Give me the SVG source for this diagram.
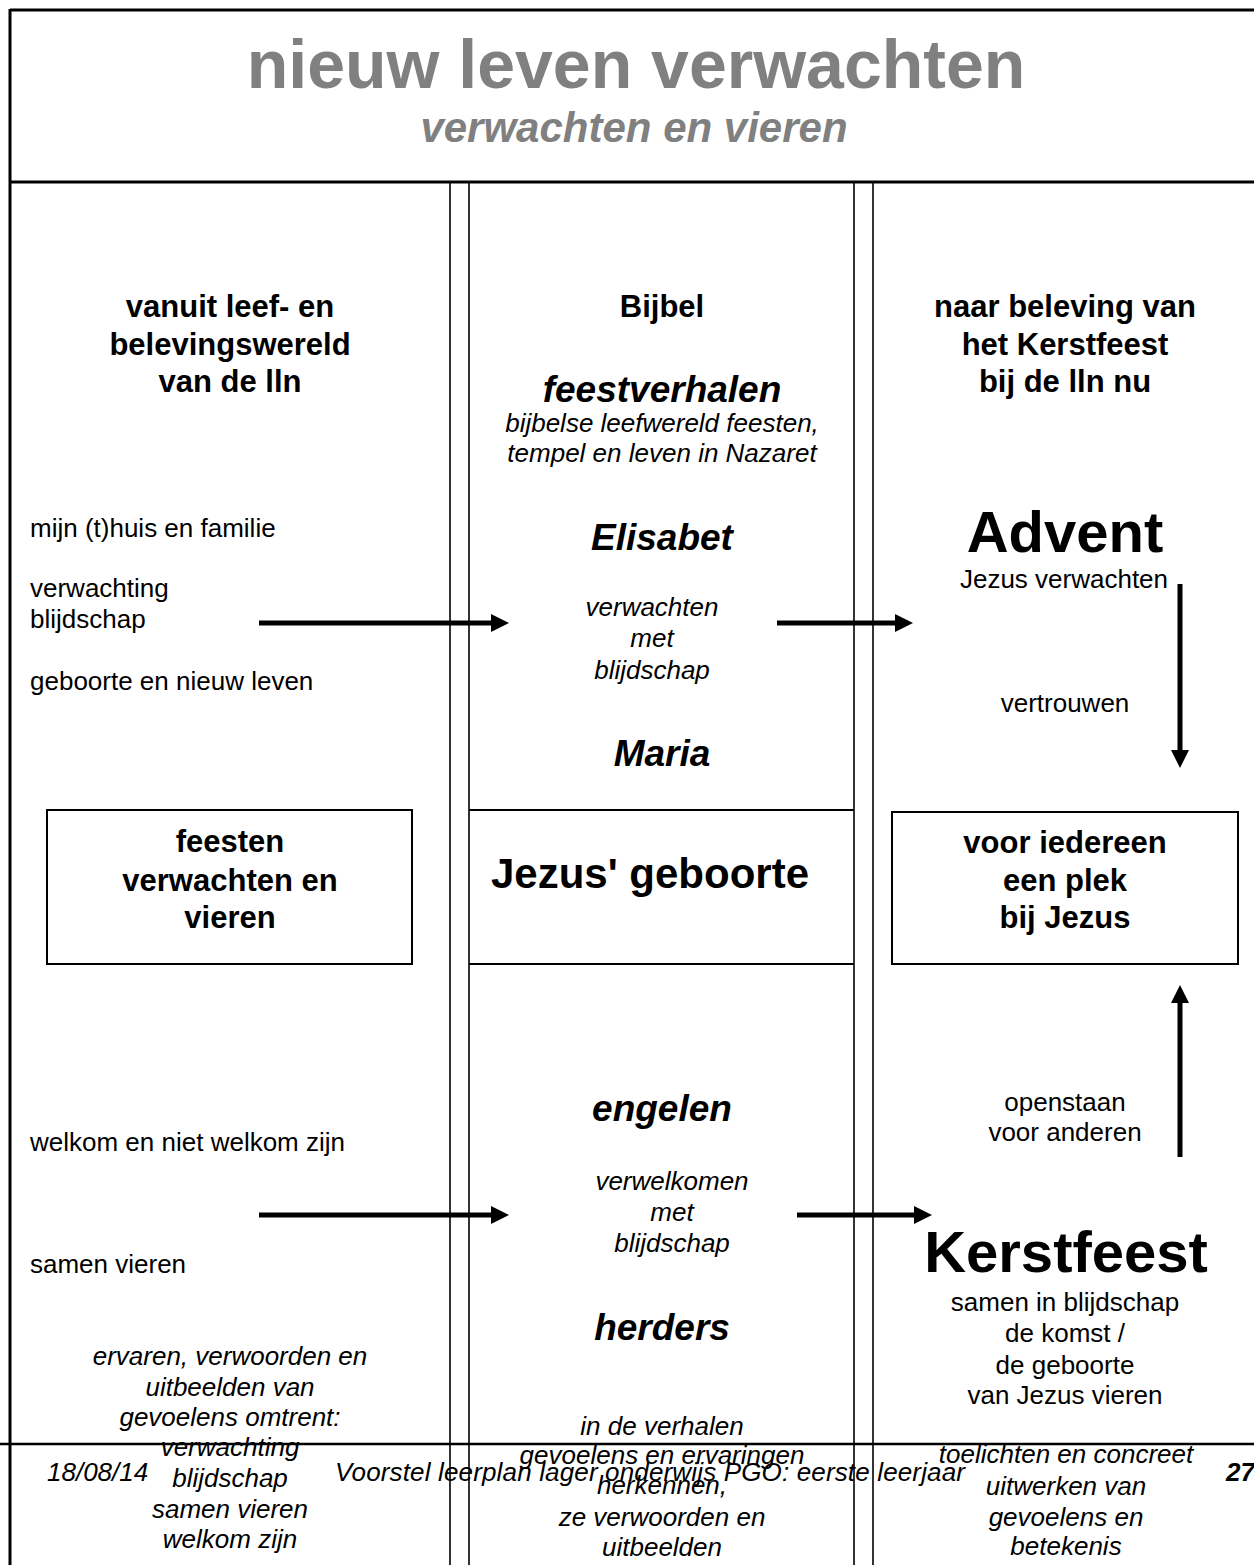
<svg xmlns="http://www.w3.org/2000/svg" width="1254" height="1565" viewBox="0 0 1254 1565">
<style>
text{font-family:"Liberation Sans",Arial,sans-serif;fill:#000}
.c{text-anchor:middle}
.t{font-size:26px}
.i{font-size:26px;font-style:italic}
.h{font-size:31px;font-weight:bold}
.bi{font-size:37px;font-weight:bold;font-style:italic}
.big{font-size:58px;font-weight:bold}
.frame{stroke:#000;fill:none}
.box{stroke:#000;stroke-width:2;fill:none}
.arr{stroke:#000;stroke-width:5}
.head{fill:#000}
</style>
<rect width="1254" height="1565" fill="#fff"/>
<g id="frame">
<line class="frame" x1="10" y1="10" x2="1254" y2="10" stroke-width="3"/>
<line class="frame" x1="10" y1="9" x2="10" y2="1565" stroke-width="3"/>
<line class="frame" x1="10" y1="182" x2="1254" y2="182" stroke-width="3"/>
<line class="frame" x1="450" y1="182" x2="450" y2="1565" stroke-width="1.6"/>
<line class="frame" x1="469" y1="182" x2="469" y2="1565" stroke-width="1.6"/>
<line class="frame" x1="854" y1="182" x2="854" y2="1565" stroke-width="1.6"/>
<line class="frame" x1="873" y1="182" x2="873" y2="1565" stroke-width="1.6"/>
<line class="frame" x1="469" y1="810" x2="854" y2="810" stroke-width="2"/>
<line class="frame" x1="469" y1="964" x2="854" y2="964" stroke-width="2"/>
<line class="frame" x1="0" y1="1444" x2="1254" y2="1444" stroke="#333" stroke-width="2.5"/>
</g>
<g id="title">
<text class="c" x="636" y="88" style="font-size:68px;font-weight:bold;fill:#808080">nieuw leven verwachten</text>
<text class="c" x="634" y="142" style="font-size:42px;font-weight:bold;font-style:italic;fill:#808080">verwachten en vieren</text>
</g>
<g id="col-left-header">
<text class="c h" x="230" y="317">vanuit leef- en</text>
<text class="c h" x="230" y="355">belevingswereld</text>
<text class="c h" x="230" y="392">van de lln</text>
</g>
<g id="col-mid-header">
<text class="c h" x="662" y="317">Bijbel</text>
<text class="c bi" x="662" y="402">feestverhalen</text>
<text class="c i" x="662" y="432">bijbelse leefwereld feesten,</text>
<text class="c i" x="662" y="462">tempel en leven in Nazaret</text>
</g>
<g id="col-right-header">
<text class="c h" x="1065" y="317">naar beleving van</text>
<text class="c h" x="1065" y="355">het Kerstfeest</text>
<text class="c h" x="1065" y="392">bij de lln nu</text>
</g>
<g id="left-top">
<text class="t" x="30" y="537">mijn (t)huis en familie</text>
<text class="t" x="30" y="597">verwachting</text>
<text class="t" x="30" y="628">blijdschap</text>
<text class="t" x="30" y="690">geboorte en nieuw leven</text>
</g>
<g id="mid-top">
<text class="c bi" x="662" y="550">Elisabet</text>
<text class="c i" x="652" y="616">verwachten</text>
<text class="c i" x="652" y="647">met</text>
<text class="c i" x="652" y="679">blijdschap</text>
<text class="c bi" x="662" y="766">Maria</text>
</g>
<g id="advent">
<text class="c big" x="1065" y="552">Advent</text>
<text class="c t" x="1064" y="588">Jezus verwachten</text>
<text class="c t" x="1065" y="712">vertrouwen</text>
</g>
<g id="box-feesten">
<rect class="box" x="47" y="810" width="365" height="154"/>
<text class="c h" x="230" y="852">feesten</text>
<text class="c h" x="230" y="891">verwachten en</text>
<text class="c h" x="230" y="928">vieren</text>
</g>
<g id="box-geboorte">
<text class="c" x="650" y="888" style="font-size:42px;font-weight:bold">Jezus' geboorte</text>
</g>
<g id="box-plek">
<rect class="box" x="892" y="812" width="346" height="152"/>
<text class="c h" x="1065" y="853">voor iedereen</text>
<text class="c h" x="1065" y="891">een plek</text>
<text class="c h" x="1065" y="928">bij Jezus</text>
</g>
<g id="left-bottom">
<text class="t" x="30" y="1151">welkom en niet welkom zijn</text>
<text class="t" x="30" y="1273">samen vieren</text>
<text class="c i" x="230" y="1365">ervaren, verwoorden en</text>
<text class="c i" x="230" y="1396">uitbeelden van</text>
<text class="c i" x="230" y="1426">gevoelens omtrent:</text>
<text class="c i" x="230" y="1456">verwachting</text>
<text class="c i" x="230" y="1487">blijdschap</text>
<text class="c i" x="230" y="1518">samen vieren</text>
<text class="c i" x="230" y="1548">welkom zijn</text>
</g>
<g id="mid-bottom">
<text class="c bi" x="662" y="1121">engelen</text>
<text class="c i" x="672" y="1190">verwelkomen</text>
<text class="c i" x="672" y="1221">met</text>
<text class="c i" x="672" y="1252">blijdschap</text>
<text class="c bi" x="662" y="1340">herders</text>
<text class="c i" x="662" y="1435">in de verhalen</text>
<text class="c i" x="662" y="1464">gevoelens en ervaringen</text>
<text class="c i" x="662" y="1494">herkennen,</text>
<text class="c i" x="662" y="1526">ze verwoorden en</text>
<text class="c i" x="662" y="1556">uitbeelden</text>
</g>
<g id="kerstfeest">
<text class="c t" x="1065" y="1111">openstaan</text>
<text class="c t" x="1065" y="1141">voor anderen</text>
<text class="c big" x="1066" y="1272">Kerstfeest</text>
<text class="c t" x="1065" y="1311">samen in blijdschap</text>
<text class="c t" x="1065" y="1342">de komst /</text>
<text class="c t" x="1065" y="1374">de geboorte</text>
<text class="c t" x="1065" y="1404">van Jezus vieren</text>
<text class="c i" x="1066" y="1463">toelichten en concreet</text>
<text class="c i" x="1066" y="1495">uitwerken van</text>
<text class="c i" x="1066" y="1526">gevoelens en</text>
<text class="c i" x="1066" y="1555">betekenis</text>
</g>
<g id="footer">
<text class="i" x="47" y="1481">18/08/14</text>
<text class="i" x="335" y="1481" textLength="630">Voorstel leerplan lager onderwijs PGO: eerste leerjaar</text>
<text x="1226" y="1481" style="font-size:26px;font-weight:bold;font-style:italic">27</text>
</g>
<g id="connectors">
<line class="arr" x1="259" y1="623" x2="493" y2="623"/>
<polygon class="head" points="491,614 509,623 491,632"/>
<line class="arr" x1="777" y1="623" x2="897" y2="623"/>
<polygon class="head" points="895,614 913,623 895,632"/>
<line class="arr" x1="1180" y1="584" x2="1180" y2="752"/>
<polygon class="head" points="1171,750 1180,768 1189,750"/>
<line class="arr" x1="1180" y1="1157" x2="1180" y2="1001"/>
<polygon class="head" points="1171,1003 1180,985 1189,1003"/>
<line class="arr" x1="259" y1="1215" x2="493" y2="1215"/>
<polygon class="head" points="491,1206 509,1215 491,1224"/>
<line class="arr" x1="797" y1="1215" x2="916" y2="1215"/>
<polygon class="head" points="914,1206 932,1215 914,1224"/>
</g>
</svg>
